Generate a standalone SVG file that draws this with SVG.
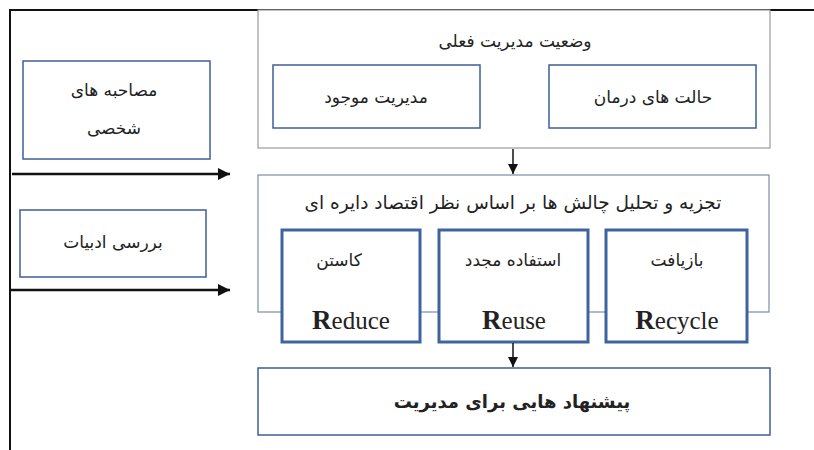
<svg xmlns="http://www.w3.org/2000/svg" width="814" height="450" viewBox="0 0 814 450">
<defs>
<marker id="ah" viewBox="0 0 10 10" refX="10" refY="5" markerWidth="5" markerHeight="5" orient="auto" markerUnits="strokeWidth"><path d="M0,0 L10,5 L0,10 Z" fill="#111"/></marker>
<marker id="ahs" viewBox="0 0 10 10" refX="10" refY="5" markerWidth="7" markerHeight="7" orient="auto" markerUnits="strokeWidth"><path d="M0,0 L10,5 L0,10 Z" fill="#111"/></marker>
</defs>
<style>
.fa{font-family:"DejaVu Sans","Noto Sans",sans-serif;font-size:17px;fill:#222;text-anchor:middle;direction:rtl}
.grp{fill:#fff;stroke:#9a9a9a;stroke-width:1.2}
.grp2{fill:#fff;stroke:#7d8da6;stroke-width:1.2}
.box{fill:#fff;stroke:#3e5f98;stroke-width:1.5}
.rbox{fill:#fff;stroke:#3e64a0;stroke-width:3}
.en{font-family:"Liberation Serif","Times New Roman",serif;font-size:25px;fill:#222;text-anchor:middle}
.conn{stroke:#111;fill:none}
</style>
<rect width="814" height="450" fill="#fff"/>
<g id="frame"><path d="M10,450 L10,10 L814,10" fill="none" stroke="#111" stroke-width="2"/></g>

<g id="current">
<rect class="grp" x="258" y="10" width="512" height="138"/>
<text class="fa" x="515" y="47">وضعیت مدیریت فعلی</text>
</g>
<g id="existing"><rect class="box" x="273" y="65" width="207" height="63"/><text class="fa" x="376" y="103">مدیریت موجود</text></g>
<g id="treatment"><rect class="box" x="549" y="65" width="207" height="63"/><text class="fa" x="653" y="103">حالت های درمان</text></g>

<g id="analysis">
<rect class="grp2" x="258" y="175" width="511" height="137"/>
<text class="fa" x="513" y="209" style="font-size:18.5px">تجزیه و تحلیل چالش ها بر اساس نظر اقتصاد دایره ای</text>
</g>
<g id="reduce"><rect class="rbox" x="282" y="230" width="138" height="112"/><text class="fa" x="339" y="266">کاستن</text><text class="en" x="351" y="329"><tspan font-weight="bold" font-size="27">R</tspan>educe</text></g>
<g id="reuse"><rect class="rbox" x="439" y="230" width="149" height="112"/><text class="fa" x="513" y="266">استفاده مجدد</text><text class="en" x="514" y="329"><tspan font-weight="bold" font-size="27">R</tspan>euse</text></g>
<g id="recycle"><rect class="rbox" x="606" y="230" width="141" height="112"/><text class="fa" x="677" y="266">بازیافت</text><text class="en" x="677" y="329"><tspan font-weight="bold" font-size="27">R</tspan>ecycle</text></g>

<g id="suggestions"><rect class="box" x="258" y="368" width="512" height="67"/><text class="fa" x="512" y="408" style="font-weight:bold;font-size:18px">پیشنهاد هایی برای مدیریت</text></g>

<g id="interviews"><rect class="box" x="23" y="61" width="187" height="98"/><text class="fa" x="114" y="96">مصاحبه های</text><text class="fa" x="114" y="134">شخصی</text></g>
<g id="literature"><rect class="box" x="20" y="210" width="186" height="67"/><text class="fa" x="113" y="248">بررسی ادبیات</text></g>

<g id="connectors">
<line class="conn" x1="12" y1="174" x2="230" y2="174" stroke-width="2.5" marker-end="url(#ah)"/>
<line class="conn" x1="11" y1="290" x2="230" y2="290" stroke-width="2.5" marker-end="url(#ah)"/>
<line class="conn" x1="513" y1="149" x2="513" y2="174" stroke-width="1.5" marker-end="url(#ahs)"/>
<line class="conn" x1="513" y1="343" x2="513" y2="367" stroke-width="1.5" marker-end="url(#ahs)"/>
</g>
</svg>
